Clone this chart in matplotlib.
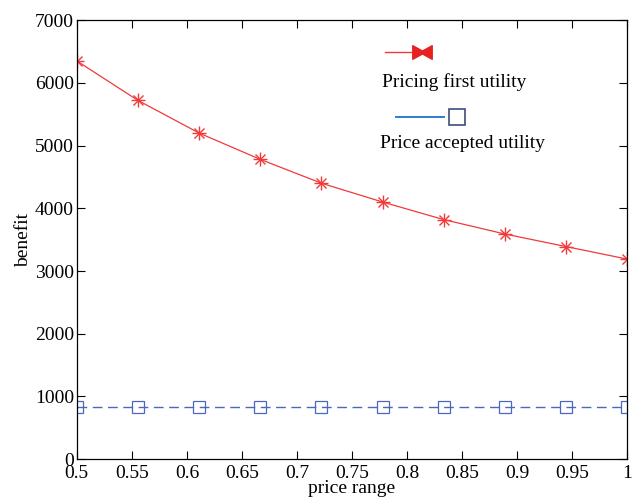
import numpy as np
import matplotlib.pyplot as plt
from matplotlib.path import Path

plt.rcParams['font.family'] = ['Liberation Serif', 'DejaVu Serif']

# data
price = [0.5, 0.5556, 0.6111, 0.6667, 0.7222, 0.7778, 0.8333, 0.8889, 0.9444, 1.0]
pricing_first = [6350, 5720, 5200, 4780, 4400, 4100, 3820, 3590, 3390, 3190]
price_accepted = [830, 830, 830, 830, 830, 830, 830, 830, 830, 830]

xticks = [0.5, 0.55, 0.6, 0.65, 0.7, 0.75, 0.8, 0.85, 0.9, 0.95, 1.0]
xticklabels = ['0.5', '0.55', '0.6', '0.65', '0.7', '0.75', '0.8', '0.85', '0.9', '0.95', '1']
yticks = [0, 1000, 2000, 3000, 4000, 5000, 6000, 7000]

red = '#f03a3a'
blue = '#4a68c0'

fig = plt.figure(figsize=(6.4, 5.04), dpi=100)
ax = fig.add_axes([0.120, 0.089, 0.860, 0.871])

# red line with matlab style asterisk (plus + cross)
ax.plot(price, pricing_first, color=red, lw=0.9)
ax.plot(price, pricing_first, ls='none', marker='+', ms=10, mec=red, mew=1.0)
ax.plot(price, pricing_first, ls='none', marker='x', ms=7, mec=red, mew=1.0)
ax.plot(price, price_accepted, color=blue, lw=1.0, ls=(0, (7, 4)), marker='s', ms=9,
        markerfacecolor='none', markeredgecolor=blue, markeredgewidth=0.9)

ax.set_xlim(0.5, 1.0)
ax.set_ylim(0, 7000)
ax.set_xticks(xticks)
ax.set_xticklabels(xticklabels)
ax.set_yticks(yticks)
ax.tick_params(direction='in', top=True, right=True, labelsize=14, length=6, pad=2)
ax.tick_params(axis='x', pad=4)
for s in ax.spines.values():
    s.set_linewidth(0.9)

ax.set_xlabel('price range', fontsize=14, labelpad=-1)
ax.set_ylabel('benefit', fontsize=14, labelpad=2)

# hand-made legend, as in the original
bow = Path([(-1, 0.7), (0, 0.15), (1, 0.7), (1, -0.7), (0, -0.15), (-1, -0.7), (-1, 0.7)],
           [Path.MOVETO] + [Path.LINETO] * 5 + [Path.CLOSEPOLY])
ax.plot([0.560, 0.615], [0.927, 0.927], transform=ax.transAxes, color=red, lw=1.0)
ax.plot([0.628], [0.927], transform=ax.transAxes, marker=bow, ms=14,
        color='#e82020', mec='#e82020')
ax.text(0.555, 0.858, 'Pricing first utility', transform=ax.transAxes,
        fontsize=14, va='center', ha='left')
ax.plot([0.580, 0.668], [0.780, 0.780], transform=ax.transAxes, color='#2f7cd0', lw=1.4)
ax.plot([0.69], [0.780], transform=ax.transAxes, marker='s', ms=12,
        markerfacecolor='none', markeredgecolor='#3c4f7a', markeredgewidth=1.2)
ax.text(0.550, 0.718, 'Price accepted utility', transform=ax.transAxes,
        fontsize=14, va='center', ha='left')

plt.savefig('out.png', dpi=100)
